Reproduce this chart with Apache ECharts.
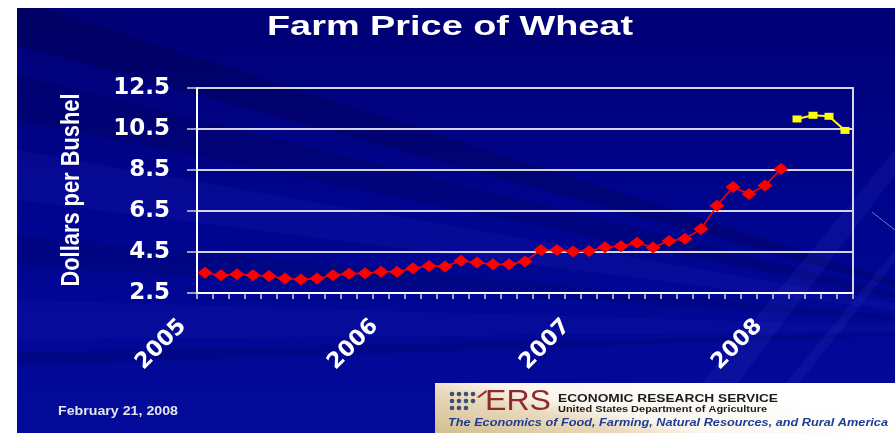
<!DOCTYPE html>
<html>
<head>
<meta charset="utf-8">
<script src="https://cdn.jsdelivr.net/npm/echarts@6/dist/echarts.min.js"></script>
<style>
  html, body { margin: 0; padding: 0; background: #fff; }
  #chart { width: 895px; height: 433px; }
</style>
</head>
<body>
<div id="chart"></div>
<script>
// months Jan 2005 .. May 2008
const months = [
  'Jan 2005','Feb 2005','Mar 2005','Apr 2005','May 2005','Jun 2005','Jul 2005','Aug 2005','Sep 2005','Oct 2005','Nov 2005','Dec 2005',
  'Jan 2006','Feb 2006','Mar 2006','Apr 2006','May 2006','Jun 2006','Jul 2006','Aug 2006','Sep 2006','Oct 2006','Nov 2006','Dec 2006',
  'Jan 2007','Feb 2007','Mar 2007','Apr 2007','May 2007','Jun 2007','Jul 2007','Aug 2007','Sep 2007','Oct 2007','Nov 2007','Dec 2007',
  'Jan 2008','Feb 2008','Mar 2008','Apr 2008','May 2008'
];
// tick boundaries (one more than months), years are labelled at these
const boundaries = months.concat(['Jun 2008']);
const yearLabels = ['2005', '2006', '2007', '2008'];
const yTicks = [2.5, 4.5, 6.5, 8.5, 10.5, 12.5];

// dollars per bushel
const actualPrice = [
  3.49, 3.36, 3.41, 3.36, 3.33, 3.21, 3.16, 3.21, 3.36, 3.44, 3.46, 3.54,
  3.54, 3.71, 3.82, 3.79, 4.07, 3.99, 3.90, 3.90, 4.04, 4.60, 4.60, 4.52,
  4.55, 4.73, 4.78, 4.95, 4.72, 5.04, 5.15, 5.62, 6.76, 7.67, 7.33, 7.74,
  8.55
];
const projectedPrice = [10.99, 11.17, 11.12, 10.43];

const chart = echarts.init(document.getElementById('chart'));

// measure text so stretched slide text can be matched in width
const ctx = document.createElement('canvas').getContext('2d');
function fitScale(text, font, width) {
  ctx.font = font;
  return width / ctx.measureText(text).width;
}
function slideText(text, x, y, font, fill, width, align, extra) {
  return Object.assign({
    type: 'text', x: x, y: y, z: 50, silent: true,
    scaleX: fitScale(text, font, width),
    style: {
      text: text, font: font, fill: fill,
      textAlign: align || 'left', align: align || 'left',
      textVerticalAlign: 'middle', verticalAlign: 'middle'
    }
  }, extra || {});
}

// background rays
const rayBands = [
  [0, 45, 'rgba(0,0,40,0.22)'],
  [75, 120, 'rgba(0,0,50,0.18)'],
  [150, 200, 'rgba(60,60,220,0.10)'],
  [235, 265, 'rgba(0,0,50,0.14)'],
  [300, 340, 'rgba(60,60,220,0.08)'],
  [352, 366, 'rgba(0,0,50,0.14)']
];
const rays = rayBands.map(b => ({
  type: 'polygon', z: -90, silent: true,
  shape: { points: [[1050, 330], [17, b[0]], [17, b[1]]] },
  style: { fill: b[2] }
}));
// lighter rays on the right edge
const rightRays = [
  [[895, 150], [895, 175], [700, 433], [660, 433]],
  [[895, 250], [895, 262], [760, 433], [745, 433]]
].map(pts => ({
  type: 'polygon', z: -85, silent: true,
  shape: { points: pts },
  style: { fill: 'rgba(90,90,230,0.10)' }
}));

const graphics = [
  {
    type: 'rect', z: -100, silent: true,
    shape: { x: 0, y: 0, width: 895, height: 433 },
    style: {
      fill: new echarts.graphic.LinearGradient(0, 0, 0, 1, [
        { offset: 0, color: '#000074' },
        { offset: 0.5, color: '#00058f' },
        { offset: 1, color: '#040b9a' }
      ])
    }
  },
  ...rays,
  ...rightRays,
  { type: 'line', z: -80, silent: true, shape: { x1: 872, y1: 212, x2: 895, y2: 230 }, style: { stroke: '#8a6cc0', lineWidth: 1 } },
  { type: 'rect', z: -70, silent: true, shape: { x: 0, y: 0, width: 895, height: 8 }, style: { fill: '#ffffff' } },
  { type: 'rect', z: -70, silent: true, shape: { x: 0, y: 0, width: 17, height: 433 }, style: { fill: '#ffffff' } },

  slideText('Farm Price of Wheat', 450, 27, 'bold 28px "Liberation Sans"', '#ffffff', 366, 'center'),
  slideText('Dollars per Bushel', 72, 190, 'bold 22px "Liberation Sans"', '#ffffff', 193, 'center',
    { rotation: Math.PI / 2, scaleY: 1.2 }),
  slideText('February 21, 2008', 58, 412, 'bold 12px "Liberation Sans"', '#e4e4ee', 120, 'left'),

  // ERS banner
  {
    type: 'rect', z: 40, silent: true,
    shape: { x: 435, y: 383, width: 460, height: 50 },
    style: {
      fill: new echarts.graphic.LinearGradient(555, 465, 581, 351, [
        { offset: 0, color: '#d2b98a' },
        { offset: 0.42, color: '#eadcc0' },
        { offset: 0.55, color: '#faf6ee' },
        { offset: 1, color: '#ffffff' }
      ], true)
    }
  },
  ...[[452, 394], [459, 394], [466, 394], [473, 394],
      [452, 401], [459, 401], [466, 401], [473, 401],
      [452, 408], [459, 408], [466, 408]].map(p => ({
    type: 'circle', z: 45, silent: true,
    shape: { cx: p[0], cy: p[1], r: 2.3 },
    style: { fill: '#3d4f78' }
  })),
  { type: 'polygon', z: 45, silent: true, shape: { points: [[477, 397], [486, 390], [487, 392], [479, 398]] }, style: { fill: '#9a2e2e' } },
  slideText('ERS', 485, 402, '29px "Liberation Sans"', '#8e2a2a', 66, 'left'),
  slideText('ECONOMIC RESEARCH SERVICE', 558, 399, 'bold 11px "Liberation Sans"', '#1c1c1c', 220, 'left'),
  slideText('United States Department of Agriculture', 558, 409.5, 'bold 9px "Liberation Sans"', '#1c1c1c', 209, 'left'),
  slideText('The Economics of Food, Farming, Natural Resources, and Rural America', 448, 423,
    'italic bold 11px "Liberation Sans"', '#1f3c94', 440, 'left')
];

const option = {
  animation: false,
  graphic: graphics,
  grid: {
    left: 197, right: 42, top: 88, bottom: 140,
    outerBoundsMode: 'none',
    show: true, borderColor: '#d4d4e4', borderWidth: 2, backgroundColor: 'transparent'
  },
  xAxis: [
    {
      type: 'category',
      data: months,
      boundaryGap: true,
      axisLine: { show: true, lineStyle: { color: '#ffffff', width: 2 } },
      axisTick: { show: true, interval: 0, alignWithLabel: false, length: 6, lineStyle: { color: '#d0d0e0', width: 1.5 } },
      axisLabel: { show: false },
      splitLine: { show: false }
    },
    {
      type: 'category',
      position: 'bottom',
      data: boundaries,
      boundaryGap: false,
      axisLine: { show: false },
      axisTick: { show: false },
      splitLine: { show: false },
      axisLabel: {
        interval: (i) => i % 12 === 0,
        formatter: (v) => yearLabels.find(y => v.endsWith(y)) || '',
        rotate: 45,
        margin: 44,
        align: 'right',
        verticalAlign: 'bottom',
        lineHeight: 40,
        color: '#ffffff',
        fontFamily: 'DejaVu Sans',
        fontWeight: 'bold',
        fontSize: 22
      }
    }
  ],
  yAxis: {
    type: 'value',
    min: 2.5,
    max: 12.5,
    axisLine: { show: true, lineStyle: { color: '#ffffff', width: 2 } },
    axisTick: { show: true, length: 10, customValues: yTicks, lineStyle: { color: '#d0d0e0', width: 1.5 } },
    axisLabel: {
      customValues: yTicks,
      margin: 27,
      formatter: (v) => v.toFixed(1),
      color: '#ffffff',
      fontFamily: 'DejaVu Sans',
      fontWeight: 'bold',
      fontSize: 23
    },
    splitLine: { show: true, lineStyle: { color: '#d4d4e4', width: 2 } }
  },
  series: [
    {
      name: 'Actual',
      type: 'line',
      data: actualPrice,
      symbol: 'diamond',
      symbolSize: [15, 12],
      showSymbol: true,
      showAllSymbol: true,
      itemStyle: { color: '#ff0000' },
      lineStyle: { color: '#ff0000', width: 1.5 }
    },
    {
      name: 'Projected',
      type: 'line',
      data: projectedPrice.map((v, i) => [months[actualPrice.length + i], v]),
      symbol: 'rect',
      symbolSize: [9, 7],
      showAllSymbol: true,
      itemStyle: { color: '#ffff00' },
      lineStyle: { color: '#ffff00', width: 2 }
    }
  ]
};
chart.setOption(option);
</script>
</body>
</html>
